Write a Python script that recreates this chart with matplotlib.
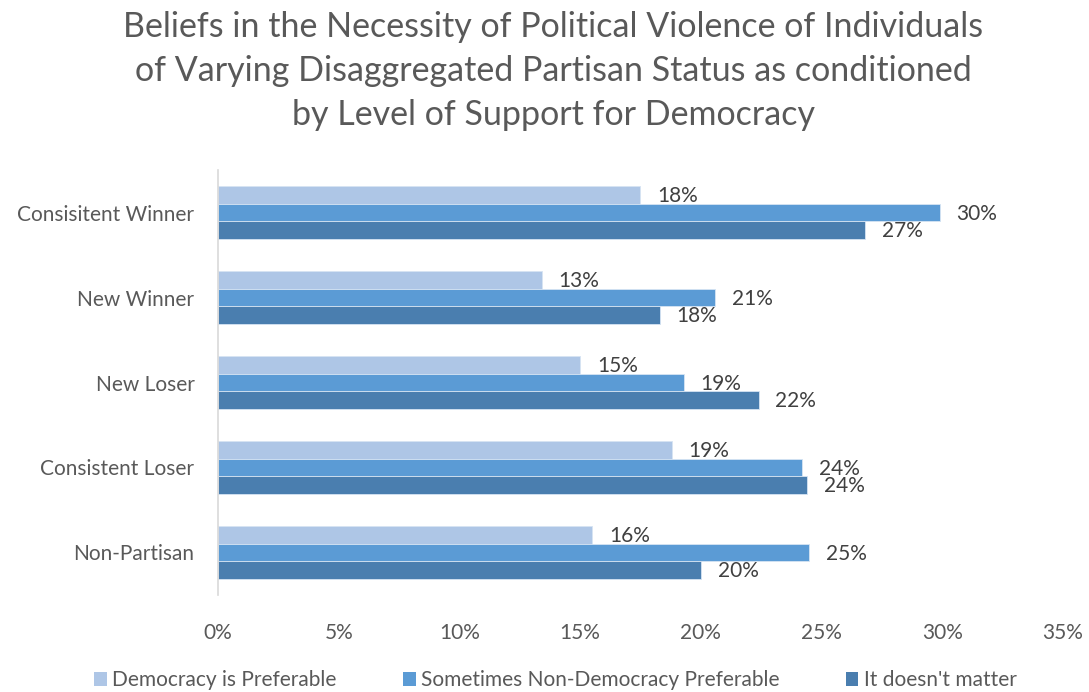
import matplotlib
matplotlib.use("Agg")
import matplotlib.pyplot as plt
import numpy as np
from matplotlib.patches import Patch

categories = ["Consisitent Winner", "New Winner", "New Loser", "Consistent Loser", "Non-Partisan"]
series_names = ["Democracy is Preferable", "Sometimes Non-Democracy Preferable", "It doesn't matter"]
democracy_preferable = [17.5, 13.4, 15.0, 18.8, 15.5]
sometimes_non_democracy = [29.9, 20.6, 19.3, 24.2, 24.5]
doesnt_matter = [26.8, 18.3, 22.4, 24.4, 20.0]
labels_light = ["18%", "13%", "15%", "19%", "16%"]
labels_mid = ["30%", "21%", "19%", "24%", "25%"]
labels_dark = ["27%", "18%", "22%", "24%", "20%"]
x_ticks = [0, 5, 10, 15, 20, 25, 30, 35]
title_lines = ["Beliefs in the Necessity of Political Violence of Individuals",
               "of Varying Disaggregated Partisan Status as conditioned",
               "by Level of Support for Democracy"]

colors = ["#AEC6E6", "#5B9BD5", "#4A7EAF"]
text_color = "#595959"
label_color = "#404040"
font = "Lato"
plt.rcParams['font.family'] = [font, 'DejaVu Sans']
fs = 15

fig = plt.figure(figsize=(10.89, 6.92), dpi=100)
ax = fig.add_axes([0.2002, 0.1402, 0.7759, 0.6141])

y = np.arange(len(categories))
h = 0.207
all_vals = [democracy_preferable, sometimes_non_democracy, doesnt_matter]
all_labels = [labels_light, labels_mid, labels_dark]
for i, (vals, labs) in enumerate(zip(all_vals, all_labels)):
    pos = y + (i - 1) * h
    bars = ax.barh(pos, vals, height=h, color=colors[i], edgecolor="#D6E4F3", linewidth=0.6,
                   label=series_names[i])
    for b, v, lab in zip(bars, vals, labs):
        ax.annotate(lab, (v, b.get_y() + b.get_height() / 2), xytext=(12, -0.8),
                    textcoords="offset points", va="center", ha="left",
                    fontsize=fs, color=label_color)

ax.set_ylim(len(categories) - 0.5, -0.5)
ax.set_xlim(0, 35)
ax.set_yticks(y)
ax.set_yticklabels(categories, fontsize=fs, color=text_color)
ax.set_xticks(x_ticks)
ax.set_xticklabels([f"{t}%" for t in x_ticks], fontsize=fs, color=text_color)
ax.tick_params(axis='both', length=0)
ax.tick_params(axis='y', pad=17)
ax.tick_params(axis='x', pad=20)
for s in ["top", "right", "bottom"]:
    ax.spines[s].set_visible(False)
ax.spines["left"].set_color("#D9D9D9")
ax.spines["left"].set_linewidth(1.2)

title_y = [27, 71, 115]
for line, py in zip(title_lines, title_y):
    fig.text(0.508, 1 - py / 692, line, ha="center", va="center", fontsize=24.5,
             color=text_color)

handles = [Patch(facecolor=c, edgecolor="none") for c in colors]
leg = fig.legend(handles, series_names, loc="center", bbox_to_anchor=(0.51, 0.017),
                 ncol=3, frameon=False, fontsize=fs, handlelength=0.6, handleheight=0.6,
                 handletextpad=0.25, columnspacing=3.2)
for t in leg.get_texts():
    t.set_color(text_color)

fig.savefig("out.png", dpi=100)
